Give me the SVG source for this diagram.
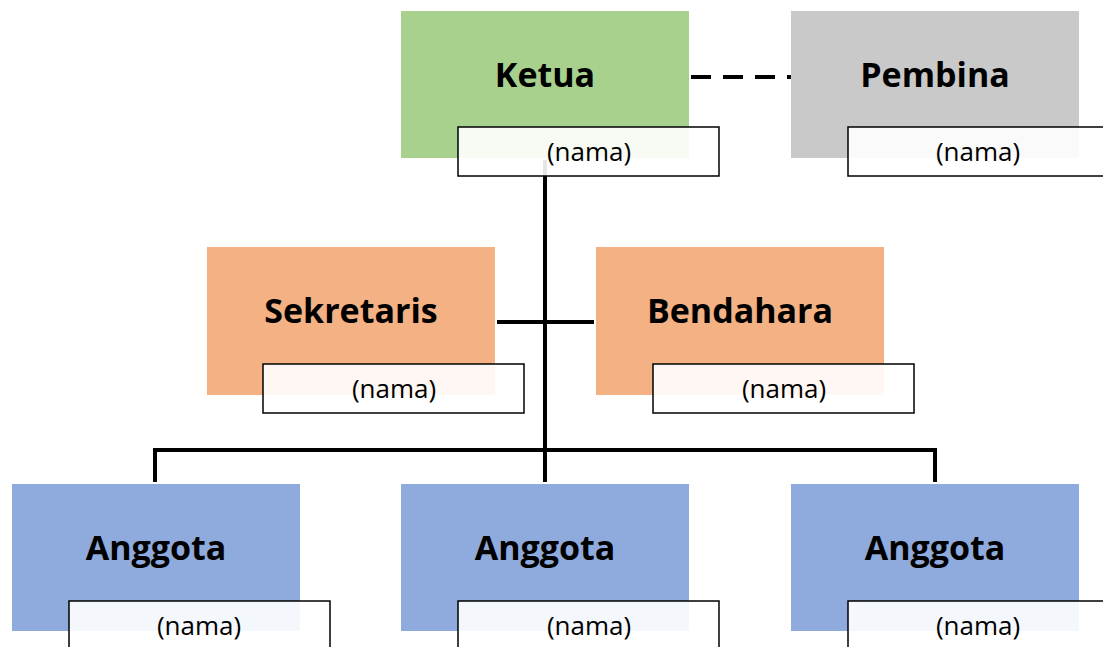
<svg xmlns="http://www.w3.org/2000/svg" width="1103" height="647" viewBox="0 0 1103 647">
  <style>
    .title { font-family: "Open Sans", "Liberation Sans", sans-serif; font-weight: 700; font-size: 34px; fill: #000; text-anchor: middle; }
    .name { font-family: "Open Sans", "Liberation Sans", sans-serif; font-size: 26px; fill: #000; text-anchor: middle; }
    .tag { fill: #ffffff; fill-opacity: 0.9; stroke: #000; stroke-width: 1.5; }
    .link { stroke: #000; stroke-width: 4; fill: none; }
    .green { fill: #a9d18e; }
    .grey { fill: #c9c9c9; }
    .orange { fill: #f4b183; }
    .blue { fill: #8faadc; }
  </style>
  <rect width="1103" height="647" fill="#ffffff"/>

  <g id="connectors">
    <line class="link" x1="691" y1="77" x2="791" y2="77" stroke-dasharray="20 12"/>
    <line class="link" x1="545" y1="160" x2="545" y2="452"/>
    <line class="link" x1="497" y1="322" x2="594" y2="322"/>
    <polyline class="link" points="155,482 155,450 935,450 935,482"/>
    <line class="link" x1="545" y1="450" x2="545" y2="482"/>
  </g>

  <g id="ketua">
    <rect class="green" x="401" y="11" width="288" height="147"/>
    <text class="title" x="545" y="87">Ketua</text>
    <rect class="tag" x="458" y="127" width="261" height="49"/>
    <text class="name" x="589" y="161">(nama)</text>
  </g>

  <g id="pembina">
    <rect class="grey" x="791" y="11" width="288" height="147"/>
    <text class="title" x="935" y="87">Pembina</text>
    <rect class="tag" x="848" y="127" width="261" height="49"/>
    <text class="name" x="978" y="161">(nama)</text>
  </g>

  <g id="sekretaris">
    <rect class="orange" x="207" y="247" width="288" height="148"/>
    <text class="title" x="351" y="323">Sekretaris</text>
    <rect class="tag" x="263" y="364" width="261" height="49"/>
    <text class="name" x="394" y="398">(nama)</text>
  </g>

  <g id="bendahara">
    <rect class="orange" x="596" y="247" width="288" height="148"/>
    <text class="title" x="740" y="323">Bendahara</text>
    <rect class="tag" x="653" y="364" width="261" height="49"/>
    <text class="name" x="784" y="398">(nama)</text>
  </g>

  <g id="anggota-1">
    <rect class="blue" x="12" y="484" width="288" height="147"/>
    <text class="title" x="156" y="560">Anggota</text>
    <rect class="tag" x="69" y="601" width="261" height="49"/>
    <text class="name" x="199" y="635">(nama)</text>
  </g>

  <g id="anggota-2">
    <rect class="blue" x="401" y="484" width="288" height="147"/>
    <text class="title" x="545" y="560">Anggota</text>
    <rect class="tag" x="458" y="601" width="261" height="49"/>
    <text class="name" x="589" y="635">(nama)</text>
  </g>

  <g id="anggota-3">
    <rect class="blue" x="791" y="484" width="288" height="147"/>
    <text class="title" x="935" y="560">Anggota</text>
    <rect class="tag" x="848" y="601" width="261" height="49"/>
    <text class="name" x="978" y="635">(nama)</text>
  </g>
</svg>
